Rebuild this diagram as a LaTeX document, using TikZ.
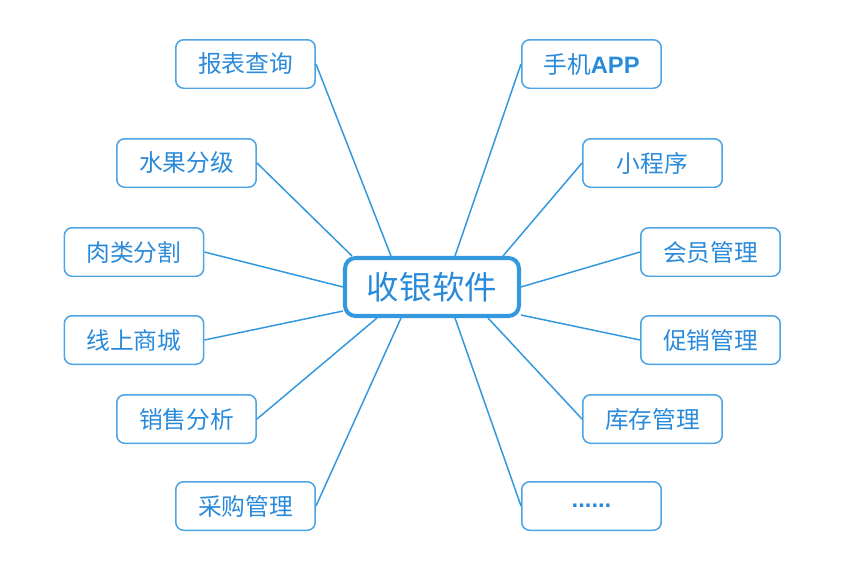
\documentclass[tikz,border=0pt]{standalone}
\usepackage{fontspec}
\setmainfont{Noto Sans CJK SC}
\newfontfamily\latinfont{Liberation Sans}
\usetikzlibrary{calc}
\definecolor{linecol}{RGB}{52,152,222}
\definecolor{boxcol}{RGB}{76,164,228}
\definecolor{textcol}{RGB}{42,138,218}

\begin{document}
\begin{tikzpicture}[x=0.02cm,y=-0.02cm,
  item/.style={draw=boxcol,line width=0.85pt,rounded corners=4.5pt,
    minimum width=2.79cm,minimum height=0.97cm,inner sep=0pt,
    text=textcol,font=\fontsize{13.5}{15}\selectfont},
  hub/.style={draw=linecol,line width=2.3pt,rounded corners=6pt,
    minimum width=3.48cm,minimum height=1.16cm,inner sep=0pt,
    text=textcol,font=\fontsize{18.5}{21}\selectfont},
  link/.style={linecol,line width=0.85pt}]
\useasboundingbox (0,0) rectangle (850,586);
% hub in the middle
\node[hub] (pos) at (432,287) {收银软件};
% left column
\node[item] (report) at (245.5,64) {报表查询};
\node[item] (fruit) at (186.5,163) {水果分级};
\node[item] (meat) at (134,252) {肉类分割};
\node[item] (shop) at (134,340) {线上商城};
\node[item] (sales) at (186.5,419) {销售分析};
\node[item] (buy) at (245.5,506) {采购管理};
% right column
\node[item] (app) at (591.5,64) {手机{\latinfont\bfseries APP}};
\node[item] (mini) at (652.5,163) {小程序};
\node[item] (member) at (710.5,252) {会员管理};
\node[item] (promo) at (710.5,340) {促销管理};
\node[item] (stock) at (652.5,419) {库存管理};
\node[item] (more) at (591.5,506) {{\latinfont\bfseries ......}};
% links to the hub
\draw[link] (report.east) -- ($(pos.north)+(-41,0)$);
\draw[link] (fruit.east) -- ($(pos.north)+(-80,0)$);
\draw[link] (meat.east) -- (pos.west);
\draw[link] (shop.east) -- ($(pos.west)+(0,24)$);
\draw[link] (sales.east) -- ($(pos.south)+(-55,0)$);
\draw[link] (buy.east) -- ($(pos.south)+(-31,0)$);
\draw[link] (app.west) -- ($(pos.north)+(23,0)$);
\draw[link] (mini.west) -- ($(pos.north)+(71,0)$);
\draw[link] (member.west) -- (pos.east);
\draw[link] (promo.west) -- ($(pos.east)+(0,28)$);
\draw[link] (stock.west) -- ($(pos.south)+(56,0)$);
\draw[link] (more.west) -- ($(pos.south)+(23,0)$);
\end{tikzpicture}
\end{document}
